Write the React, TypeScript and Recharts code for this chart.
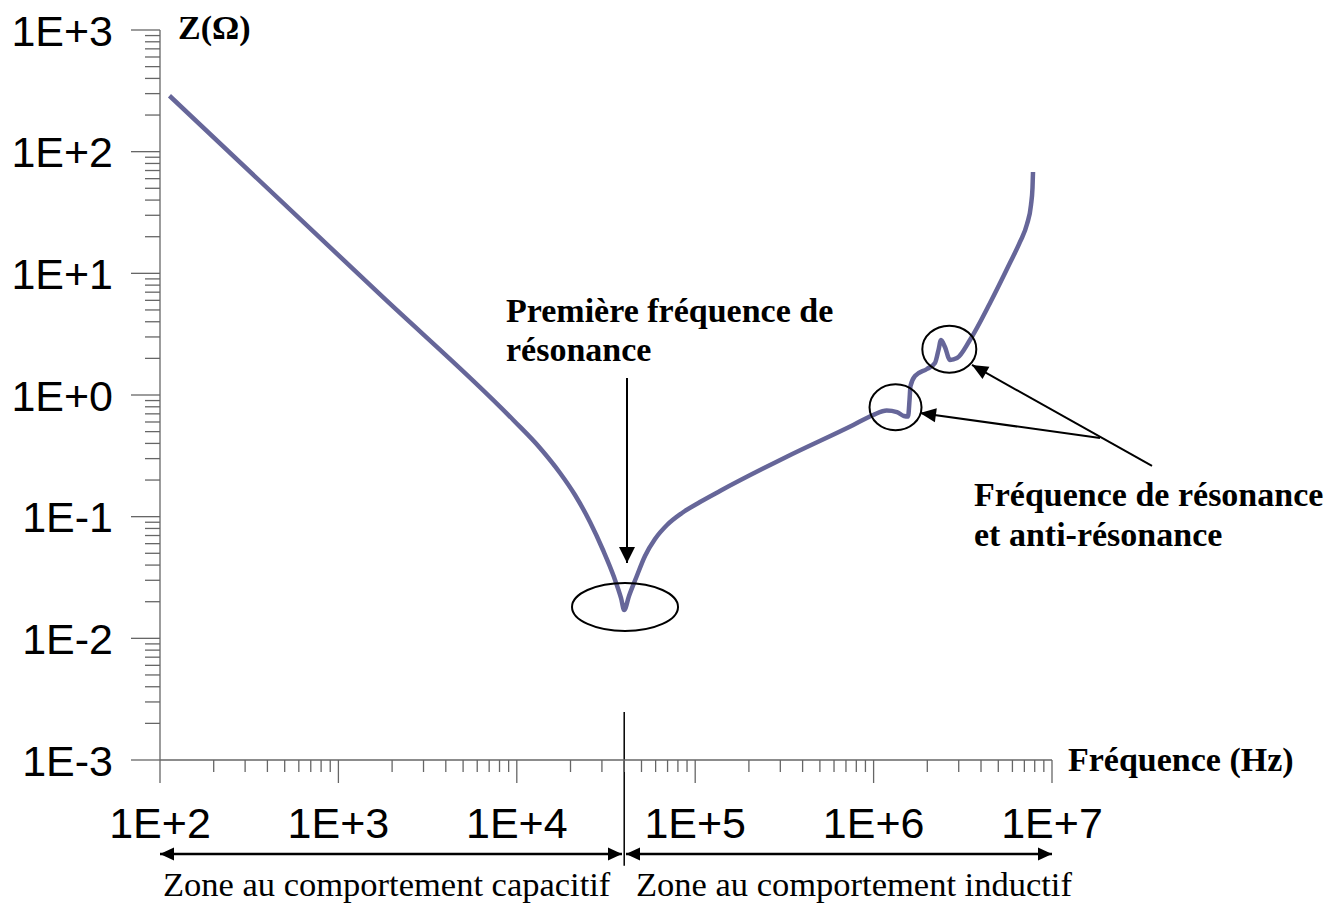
import { LineChart, Line, XAxis, YAxis, ReferenceLine, ReferenceDot } from "recharts";

// |Z| of the capacitor vs frequency
const freqHz = [
  113, 1711, 9550, 13490, 17470, 21200, 25720, 30420, 35060, 38370, 40000,
  42560, 46590, 52310, 59530, 69500, 84330, 106400, 137700, 326000, 769500, 995000,
  1184000, 1352000, 1479000, 1560000, 1590000, 1610000, 1706000, 1991000, 2208000, 2311000,
  2387000, 2512000, 2680000, 2935000, 3468000, 4494000, 5816000, 6617000, 7244000, 7625000,
  7774000, 7826000,
];
const impedanceOhm = [
  288, 6.71, 0.623, 0.3668, 0.2286, 0.1507, 0.0904, 0.0532, 0.0319, 0.0215, 0.0171,
  0.0223, 0.0313, 0.0475, 0.0655, 0.0854, 0.1072, 0.132, 0.1626, 0.311, 0.567, 0.685,
  0.746, 0.724, 0.672, 0.666, 0.91, 1.186, 1.432, 1.636, 1.833, 2.344,
  2.83, 2.48, 1.94, 2.01, 2.83, 5.7, 12.2, 18.1, 25.4, 36.5,
  50.3, 68.1,
];

const xMajor = [1e2, 1e3, 1e4, 1e5, 1e6, 1e7];
const xLabels = ["1E+2", "1E+3", "1E+4", "1E+5", "1E+6", "1E+7"];
const yMajor = [1e-3, 1e-2, 1e-1, 1, 1e1, 1e2, 1e3];
const yLabels = ["1E-3", "1E-2", "1E-1", "1E+0", "1E+1", "1E+2", "1E+3"];
const minorSteps = [2, 3, 4, 5, 6, 7, 8, 9];

const xTicks = [...xMajor, ...xMajor.slice(0, -1).flatMap((d) => minorSteps.map((m) => d * m))];
const yTicks = [...yMajor, ...yMajor.slice(0, -1).flatMap((d) => minorSteps.map((m) => d * m))];

const rows = freqHz.map((f, i) => ({ f, z: impedanceOhm[i] }));

const AXIS = "#666";
const SANS = "Liberation Sans, Arial, sans-serif";
const SERIF = "Liberation Serif, Times New Roman, serif";

const XTick = ({ x, y, payload }: any) => {
  const i = xMajor.indexOf(payload.value);
  return (
    <g>
      <line x1={x} y1={y} x2={x} y2={y + (i >= 0 ? 23 : 12)} stroke={AXIS} strokeWidth={1.3} />
      {i >= 0 && (
        <text x={x} y={y + 78} textAnchor="middle" fontFamily={SANS} fontSize={43} fill="#000">
          {xLabels[i]}
        </text>
      )}
    </g>
  );
};

const YTick = ({ x, y, payload }: any) => {
  const i = yMajor.indexOf(payload.value);
  return (
    <g>
      <line x1={x} y1={y} x2={x - (i >= 0 ? 29 : 15)} y2={y} stroke={AXIS} strokeWidth={1.3} />
      {i >= 0 && (
        <text x={x - 47} y={y + 15.5} textAnchor="end" fontFamily={SANS} fontSize={43} fill="#000">
          {yLabels[i]}
        </text>
      )}
    </g>
  );
};

function headPoints(tx: number, ty: number, fx: number, fy: number, len: number, half: number) {
  const d = Math.hypot(tx - fx, ty - fy) || 1;
  const ux = (tx - fx) / d;
  const uy = (ty - fy) / d;
  const bx = tx - ux * len;
  const by = ty - uy * len;
  return `${tx},${ty} ${bx - uy * half},${by + ux * half} ${bx + uy * half},${by - ux * half}`;
}

// line with a filled arrow head at the end (or both ends)
const arrow = (both: boolean, width: number, len = 15, half = 7.5) => (p: any) => {
  const { x1, y1, x2, y2 } = p;
  return (
    <g>
      <line x1={x1} y1={y1} x2={x2} y2={y2} stroke="#000" strokeWidth={width} />
      <polygon points={headPoints(x2, y2, x1, y1, len, half)} fill="#000" />
      {both && <polygon points={headPoints(x1, y1, x2, y2, len, half)} fill="#000" />}
    </g>
  );
};

const ring = (rx: number, ry: number) => (p: any) => (
  <ellipse cx={p.cx} cy={p.cy} rx={rx} ry={ry} fill="none" stroke="#000" strokeWidth={2} />
);

export default function App() {
  return (
    <div style={{ position: "absolute", left: 0, top: 0, width: 1343, height: 903, background: "#fff" }}>
      <LineChart width={1343} height={903} data={rows} margin={{ top: 30, right: 291, bottom: 0, left: 0 }}>
        <XAxis
          dataKey="f"
          type="number"
          scale="log"
          domain={[1e2, 1e7]}
          allowDataOverflow
          ticks={xTicks}
          interval={0}
          tickSize={0}
          tickMargin={0}
          tickLine={false}
          tick={<XTick />}
          axisLine={{ stroke: AXIS, strokeWidth: 1.3 }}
          height={143}
        />
        <YAxis
          type="number"
          scale="log"
          domain={[1e-3, 1e3]}
          allowDataOverflow
          ticks={yTicks}
          interval={0}
          tickSize={0}
          tickMargin={0}
          tickLine={false}
          tick={<YTick />}
          axisLine={{ stroke: AXIS, strokeWidth: 1.3 }}
          width={160}
        />

        {/* resonance markers */}
        <ReferenceDot x={40420} y={0.0181} r={1} ifOverflow="visible" shape={ring(53, 24)} />
        <ReferenceDot x={1327000} y={0.792} r={1} ifOverflow="visible" shape={ring(26, 23)} />
        <ReferenceDot x={2657000} y={2.38} r={1} ifOverflow="visible" shape={ring(27, 23.5)} />

        <Line
          type="monotone"
          dataKey="z"
          stroke="#666699"
          strokeWidth={4.5}
          dot={false}
          isAnimationActive={false}
        />

        {/* pointers */}
        <ReferenceLine
          segment={[{ x: 41470, y: 1.38 }, { x: 41470, y: 0.0416 }]}
          ifOverflow="visible"
          shape={arrow(false, 2, 16, 8)}
        />
        <ReferenceLine
          segment={[{ x: 1.858e7, y: 0.443 }, { x: 1.82e6, y: 0.711 }]}
          ifOverflow="visible"
          shape={arrow(false, 2, 16, 7)}
        />
        <ReferenceLine
          segment={[{ x: 3.635e7, y: 0.261 }, { x: 3.561e6, y: 1.765 }]}
          ifOverflow="visible"
          shape={arrow(false, 2, 16, 7)}
        />

        {/* split between capacitive and inductive behaviour */}
        <ReferenceLine
          segment={[{ x: 4e4, y: 2.48e-3 }, { x: 4e4, y: 1.35e-4 }]}
          ifOverflow="visible"
          stroke="#000"
          strokeWidth={1.5}
        />
        <ReferenceLine
          segment={[{ x: 1e2, y: 1.69e-4 }, { x: 38870, y: 1.69e-4 }]}
          ifOverflow="visible"
          shape={arrow(true, 2.5, 14, 6.5)}
        />
        <ReferenceLine
          segment={[{ x: 40930, y: 1.69e-4 }, { x: 1e7, y: 1.69e-4 }]}
          ifOverflow="visible"
          shape={arrow(true, 2.5, 14, 6.5)}
        />
      </LineChart>

      <svg
        width={1343}
        height={903}
        style={{ position: "absolute", left: 0, top: 0, pointerEvents: "none" }}
      >
        <g fontFamily={SERIF} fontWeight="bold" fontSize={34} fill="#000">
          <text x={178} y={39} fontSize={34}>Z(Ω)</text>
          <text x={1068} y={771}>Fréquence (Hz)</text>
          <text x={506} y={322}>Première fréquence de</text>
          <text x={506} y={361}>résonance</text>
          <text x={974} y={506}>Fréquence de résonance</text>
          <text x={974} y={546}>et anti-résonance</text>
        </g>
        <g fontFamily={SERIF} fontSize={34.5} fill="#000">
          <text x={163} y={896}>Zone au comportement capacitif</text>
          <text x={636} y={896}>Zone au comportement inductif</text>
        </g>
      </svg>
    </div>
  );
}
